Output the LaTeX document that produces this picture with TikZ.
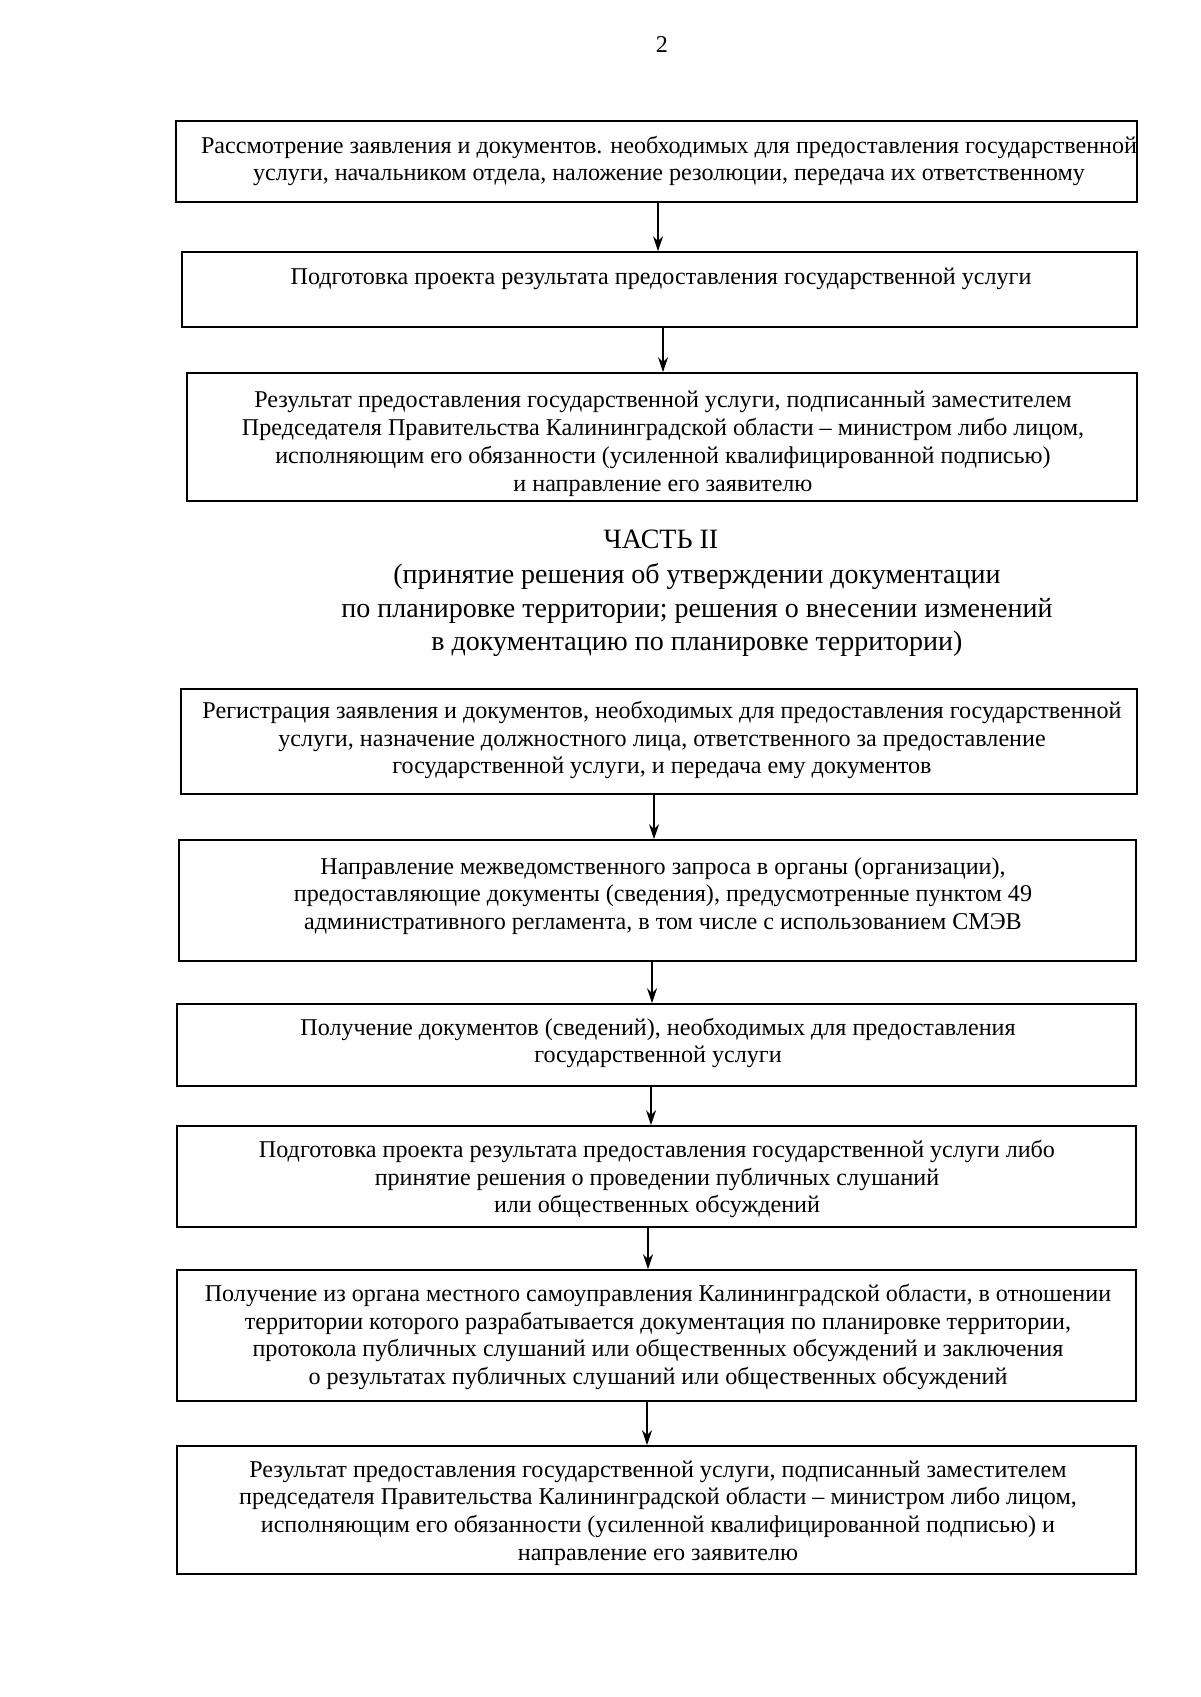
\documentclass[tikz,border=0pt]{standalone}
\usepackage{fontspec}
\setmainfont{Liberation Serif}
\usetikzlibrary{arrows.meta,fit}
\begin{document}
\begin{tikzpicture}[x=0.5pt,y=-0.5pt,
  box/.style={draw, line width=0.8pt, inner sep=0pt, rectangle},
  txt/.style={align=center, inner sep=0pt, font=\fontsize{12.05}{13.9}\selectfont},
  ttl/.style={align=center, inner sep=0pt, font=\fontsize{14}{16.75}\selectfont},
  arr/.style={line width=0.6pt, -{Stealth[length=7.5pt,width=5pt]}}]
\useasboundingbox (0,0) rectangle (1200,1697);
\node[txt] (pg) at (662,45) {2};
% Boxes
\node[box, fit={(176,121) (1137,202)}] (b1) {};
\node[box, fit={(182,252) (1137,327)}] (b2) {};
\node[box, fit={(187,373) (1137,501)}] (b3) {};
\node[box, fit={(181,689) (1137,794)}] (b4) {};
\node[box, fit={(179,840) (1136,961)}] (b5) {};
\node[box, fit={(177,1004) (1136,1086)}] (b6) {};
\node[box, fit={(177,1126) (1136,1227)}] (b7) {};
\node[box, fit={(177,1270) (1136,1401)}] (b8) {};
\node[box, fit={(177,1446) (1136,1574)}] (b9) {};
% Texts
\node[txt] (t1) at (669,161) {Рассмотрение заявления и документов. необходимых для предоставления государственной\\услуги, начальником отдела, наложение резолюции, передача их ответственному};
\node[txt] (t2) at (661,279) {Подготовка проекта результата предоставления государственной услуги};
\node[txt] (t3) at (663,444) {Результат предоставления государственной услуги, подписанный заместителем\\Председателя Правительства Калининградской области – министром либо лицом,\\исполняющим его обязанности (усиленной квалифицированной подписью)\\и направление его заявителю};
\node[ttl] (h1) at (661,539) {ЧАСТЬ II};
\node[ttl] (h2) at (697,610) {(принятие решения об утверждении документации\\по планировке территории; решения о внесении изменений\\в документацию по планировке территории)};
\node[txt] (t4) at (662,740) {Регистрация заявления и документов, необходимых для предоставления государственной\\услуги, назначение должностного лица, ответственного за предоставление\\государственной услуги, и передача ему документов};
\node[txt] (t5) at (663,896) {Направление межведомственного запроса в органы (организации),\\предоставляющие документы (сведения), предусмотренные пунктом 49\\административного регламента, в том числе с использованием СМЭВ};
\node[txt] (t6) at (658,1043) {Получение документов (сведений), необходимых для предоставления\\государственной услуги};
\node[txt] (t7) at (657,1179) {Подготовка проекта результата предоставления государственной услуги либо\\принятие решения о проведении публичных слушаний\\или общественных обсуждений};
\node[txt] (t8) at (658,1337) {Получение из органа местного самоуправления Калининградской области, в отношении\\территории которого разрабатывается документация по планировке территории,\\протокола публичных слушаний или общественных обсуждений и заключения\\о результатах публичных слушаний или общественных обсуждений};
\node[txt] (t9) at (658,1513) {Результат предоставления государственной услуги, подписанный заместителем\\председателя Правительства Калининградской области – министром либо лицом,\\исполняющим его обязанности (усиленной квалифицированной подписью) и\\направление его заявителю};
% Arrows
\draw[arr] (b1.south -| 658,0) -- (b2.north -| 658,0);
\draw[arr] (b2.south -| 663,0) -- (b3.north -| 663,0);
\draw[arr] (b4.south -| 654,0) -- (b5.north -| 654,0);
\draw[arr] (b5.south -| 652,0) -- (b6.north -| 652,0);
\draw[arr] (b6.south -| 651,0) -- (b7.north -| 651,0);
\draw[arr] (b7.south -| 648,0) -- (b8.north -| 648,0);
\draw[arr] (b8.south -| 647,0) -- (b9.north -| 647,0);
\end{tikzpicture}
\end{document}
